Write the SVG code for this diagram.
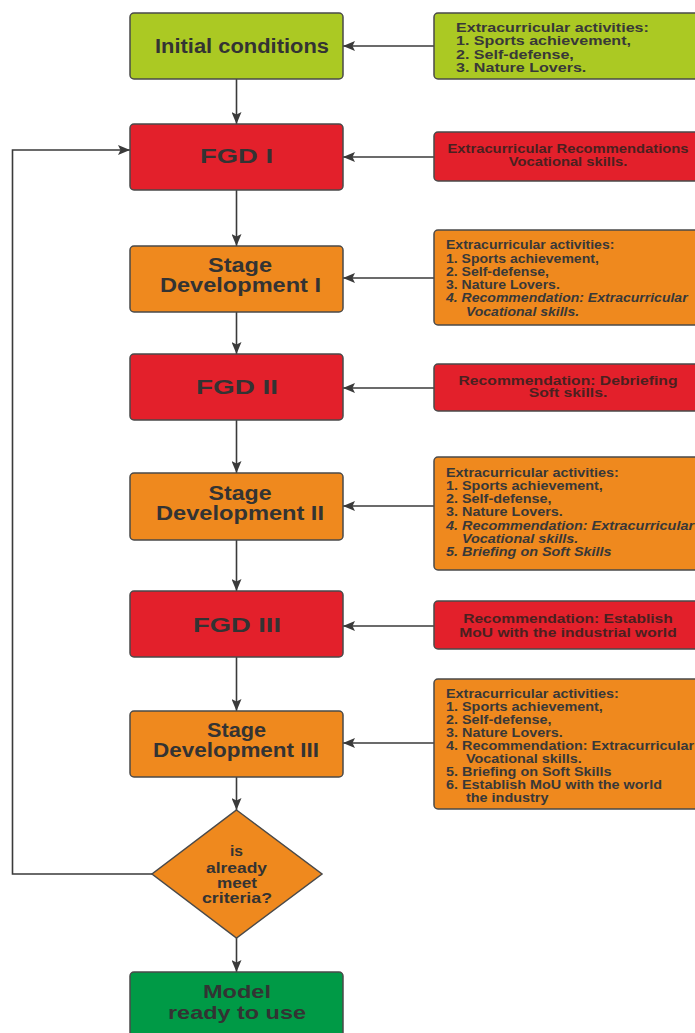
<svg xmlns="http://www.w3.org/2000/svg" width="695" height="1033" viewBox="0 0 695 1033">
<defs>
<marker id="arr" viewBox="0 0 12 10" refX="12" refY="5" markerWidth="13" markerHeight="10" markerUnits="userSpaceOnUse" orient="auto">
<path d="M0,0 L12,5 L0,10 L2.5,5 z" fill="#3a3a3a"/>
</marker>
</defs>
<style>
.box{stroke:#4a4a4a;stroke-width:1.5}
.lime{fill:#abc923}
.red{fill:#e3202b}
.orange{fill:#ef891e}
.green{fill:#009a46}
.lbl{font-family:"Liberation Sans",Arial,sans-serif;font-weight:bold;font-size:20px;fill:#333;text-anchor:middle}
.sm{font-size:18.5px}
.dia{font-family:"Liberation Sans",Arial,sans-serif;font-weight:bold;font-size:15.5px;fill:#333;text-anchor:middle}
.note{font-family:"Liberation Sans",Arial,sans-serif;font-weight:bold;font-size:12px;fill:#383838}
.noter{font-family:"Liberation Sans",Arial,sans-serif;font-weight:bold;font-size:12px;fill:#4a2020;text-anchor:middle}
.it{font-style:italic}
.con{fill:none;stroke:#3a3a3a;stroke-width:1.6}
</style>
<rect width="695" height="1033" fill="#ffffff"/>

<g id="connectors">
<path class="con" d="M236.5,79 V124" marker-end="url(#arr)"/>
<path class="con" d="M236.5,190 V246" marker-end="url(#arr)"/>
<path class="con" d="M236.5,312 V354" marker-end="url(#arr)"/>
<path class="con" d="M236.5,420 V473" marker-end="url(#arr)"/>
<path class="con" d="M236.5,540 V591" marker-end="url(#arr)"/>
<path class="con" d="M236.5,657 V711" marker-end="url(#arr)"/>
<path class="con" d="M236.5,777 V810" marker-end="url(#arr)"/>
<path class="con" d="M236.5,938 V972" marker-end="url(#arr)"/>
<path class="con" d="M152,874 H12.5 V150 H130" marker-end="url(#arr)"/>
<path class="con" d="M434,46 H343" marker-end="url(#arr)"/>
<path class="con" d="M434,157 H343" marker-end="url(#arr)"/>
<path class="con" d="M434,278 H343" marker-end="url(#arr)"/>
<path class="con" d="M434,388 H343" marker-end="url(#arr)"/>
<path class="con" d="M434,506 H343" marker-end="url(#arr)"/>
<path class="con" d="M434,626 H343" marker-end="url(#arr)"/>
<path class="con" d="M434,743 H343" marker-end="url(#arr)"/>
</g>

<g id="initial">
<rect class="box lime" x="130" y="13" width="213" height="66" rx="4"/>
<text class="lbl" x="242" y="53" textLength="174" lengthAdjust="spacingAndGlyphs">Initial conditions</text>
</g>
<g id="fgd1">
<rect class="box red" x="130" y="124" width="213" height="66" rx="4"/>
<text class="lbl" x="236.5" y="163" textLength="73" lengthAdjust="spacingAndGlyphs">FGD I</text>
</g>
<g id="stage1">
<rect class="box orange" x="130" y="246" width="213" height="66" rx="4"/>
<text class="lbl" x="240" y="272" textLength="64" lengthAdjust="spacingAndGlyphs">Stage</text>
<text class="lbl" x="240.5" y="292" textLength="161" lengthAdjust="spacingAndGlyphs">Development I</text>
</g>
<g id="fgd2">
<rect class="box red" x="130" y="354" width="213" height="66" rx="4"/>
<text class="lbl" x="237" y="394" textLength="82" lengthAdjust="spacingAndGlyphs">FGD II</text>
</g>
<g id="stage2">
<rect class="box orange" x="130" y="473" width="213" height="67" rx="4"/>
<text class="lbl" x="240" y="500" textLength="63" lengthAdjust="spacingAndGlyphs">Stage</text>
<text class="lbl" x="240" y="520" textLength="168" lengthAdjust="spacingAndGlyphs">Development II</text>
</g>
<g id="fgd3">
<rect class="box red" x="130" y="591" width="213" height="66" rx="4"/>
<text class="lbl" x="237" y="632" textLength="88" lengthAdjust="spacingAndGlyphs">FGD III</text>
</g>
<g id="stage3">
<rect class="box orange" x="130" y="711" width="213" height="66" rx="4"/>
<text class="lbl" x="236.5" y="737" textLength="59" lengthAdjust="spacingAndGlyphs">Stage</text>
<text class="lbl" x="236" y="757" textLength="166" lengthAdjust="spacingAndGlyphs">Development III</text>
</g>
<g id="decision">
<polygon class="box orange" points="236.5,810 322,874 236.5,938 152,874"/>
<text class="dia" x="236.5" y="856" textLength="13" lengthAdjust="spacingAndGlyphs">is</text>
<text class="dia" x="236.5" y="873" textLength="61" lengthAdjust="spacingAndGlyphs">already</text>
<text class="dia" x="237" y="888" textLength="40" lengthAdjust="spacingAndGlyphs">meet</text>
<text class="dia" x="237" y="903" textLength="70" lengthAdjust="spacingAndGlyphs">criteria?</text>
</g>
<g id="model">
<rect class="box green" x="130" y="972" width="213" height="70" rx="4"/>
<text class="lbl sm" x="237" y="998" textLength="68" lengthAdjust="spacingAndGlyphs">Model</text>
<text class="lbl sm" x="237" y="1019" textLength="138" lengthAdjust="spacingAndGlyphs">ready to use</text>
</g>

<g id="note1">
<rect class="box lime" x="434" y="13" width="270" height="66" rx="4"/>
<g transform="translate(456,0) scale(1.34,1)">
<text class="note" x="0" y="32">Extracurricular activities:</text>
<text class="note" x="0" y="45.5">1. Sports achievement,</text>
<text class="note" x="0" y="59">2. Self-defense,</text>
<text class="note" x="0" y="72.5">3. Nature Lovers.</text>
</g>
</g>
<g id="note2">
<rect class="box red" x="434" y="132" width="270" height="49" rx="4"/>
<g transform="translate(568,0) scale(1.23,1)">
<text class="noter" x="0" y="153">Extracurricular Recommendations</text>
<text class="noter" x="0" y="166.5">Vocational skills.</text>
</g>
</g>
<g id="note3">
<rect class="box orange" x="434" y="230" width="270" height="95" rx="4"/>
<g transform="translate(446,0) scale(1.17,1)">
<text class="note" x="0" y="249.3">Extracurricular activities:</text>
<text class="note" x="0" y="262.6">1. Sports achievement,</text>
<text class="note" x="0" y="275.9">2. Self-defense,</text>
<text class="note" x="0" y="289.2">3. Nature Lovers.</text>
<text class="note it" x="0" y="302.5">4. Recommendation: Extracurricular</text>
<text class="note it" x="17" y="315.8">Vocational skills.</text>
</g>
</g>
<g id="note4">
<rect class="box red" x="434" y="364" width="270" height="47" rx="4"/>
<g transform="translate(568,0) scale(1.31,1)">
<text class="noter" x="0" y="385">Recommendation: Debriefing</text>
<text class="noter" x="0" y="397.5">Soft skills.</text>
</g>
</g>
<g id="note5">
<rect class="box orange" x="434" y="457" width="270" height="113" rx="4"/>
<g transform="translate(446,0) scale(1.2,1)">
<text class="note" x="0" y="476.6">Extracurricular activities:</text>
<text class="note" x="0" y="489.9">1. Sports achievement,</text>
<text class="note" x="0" y="503.2">2. Self-defense,</text>
<text class="note" x="0" y="516.5">3. Nature Lovers.</text>
<text class="note it" x="0" y="529.8">4. Recommendation: Extracurricular</text>
<text class="note it" x="13.3" y="543.1">Vocational skills.</text>
<text class="note it" x="0" y="556.4">5. Briefing on Soft Skills</text>
</g>
</g>
<g id="note6">
<rect class="box red" x="434" y="601" width="270" height="48" rx="4"/>
<g transform="translate(568,0) scale(1.3,1)">
<text class="noter" x="0" y="623.3">Recommendation: Establish</text>
<text class="noter" x="0" y="636.7">MoU with the industrial world</text>
</g>
</g>
<g id="note7">
<rect class="box orange" x="434" y="679" width="270" height="130" rx="4"/>
<g transform="translate(446,0) scale(1.2,1)">
<text class="note" x="0" y="697.6">Extracurricular activities:</text>
<text class="note" x="0" y="710.7">1. Sports achievement,</text>
<text class="note" x="0" y="723.8">2. Self-defense,</text>
<text class="note" x="0" y="736.9">3. Nature Lovers.</text>
<text class="note" x="0" y="750">4. Recommendation: Extracurricular</text>
<text class="note" x="16.7" y="763.1">Vocational skills.</text>
<text class="note" x="0" y="776.2">5. Briefing on Soft Skills</text>
<text class="note" x="0" y="789.3">6. Establish MoU with the world</text>
<text class="note" x="16.7" y="802.4">the industry</text>
</g>
</g>
</svg>
